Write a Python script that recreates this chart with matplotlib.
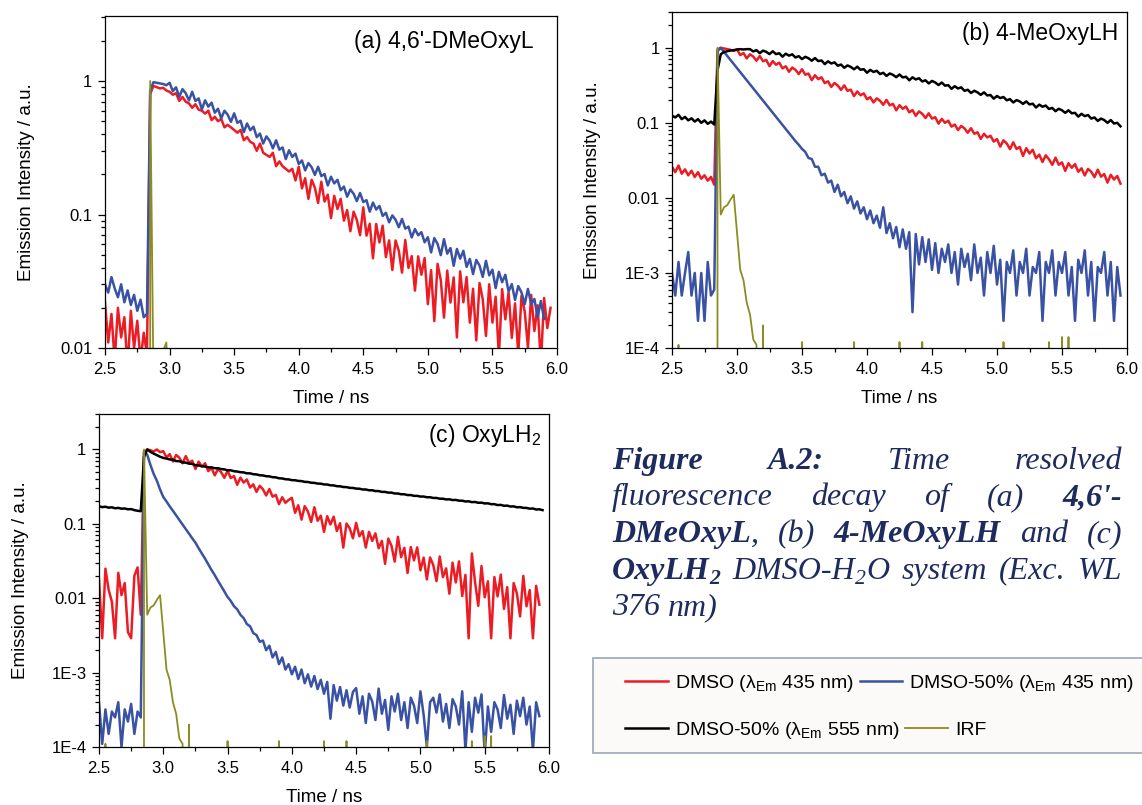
import numpy as np
import matplotlib
matplotlib.use("Agg")
import matplotlib.pyplot as plt
from matplotlib import font_manager
from matplotlib.patches import Rectangle
from matplotlib.ticker import AutoMinorLocator, LogLocator, NullFormatter

nan = np.nan

# time channels (ns), 0.025 ns per point
t = np.round(np.arange(2.5, 5.9501, 0.025), 3)

# ---- (a) 4,6'-DMeOxyL ----
a_dmso = [0.022, 0.011, 0.018, 0.008, 0.020, 0.012, 0.017, 0.007, 0.019, 0.010,
          0.016, 0.008, 0.013, 0.009, 0.80, 0.92, 0.90, 0.88, 0.89, 0.85,
          0.83, 0.79, 0.81, 0.71, 0.76, 0.70, 0.68, 0.63, 0.67, 0.61,
          0.60, 0.57, 0.60, 0.51, 0.54, 0.50, 0.52, 0.45, 0.47, 0.45,
          0.43, 0.41, 0.43, 0.36, 0.38, 0.35, 0.34, 0.30, 0.34, 0.29,
          0.28, 0.27, 0.29, 0.23, 0.25, 0.23, 0.22, 0.21, 0.22, 0.18,
          0.228, 0.157, 0.187, 0.131, 0.182, 0.159, 0.122, 0.176, 0.125, 0.141,
          0.094, 0.138, 0.110, 0.131, 0.090, 0.108, 0.075, 0.105, 0.091, 0.070,
          0.113, 0.0695, 0.0853, 0.047, 0.085, 0.0618, 0.0825, 0.048, 0.064, 0.0384,
          0.0639, 0.0534, 0.0367, 0.0645, 0.0398, 0.0488, 0.0269, 0.0486, 0.0354, 0.0472,
          0.0213, 0.0383, 0.0159, 0.0427, 0.0323, 0.0169, 0.038, 0.0219, 0.0338, 0.012,
          0.0375, 0.022, 0.034, 0.0155, 0.0278, 0.0114, 0.0307, 0.0232, 0.0123, 0.030,
          0.0155, 0.0242, 0.0087, 0.0276, 0.0164, 0.026, 0.0119, 0.0216, 0.009, 0.0246,
          0.0188, 0.0101, 0.025, 0.0134, 0.0209, 0.0075, 0.0237, 0.0141, 0.020]
a_dmso50 = [0.030, 0.026, 0.034, 0.028, 0.024, 0.030, 0.022, 0.027, 0.021, 0.025,
            0.019, 0.023, 0.017, 0.018, 0.85, 0.98, 0.97, 0.96, 0.95, 0.93,
            0.97, 0.84, 0.898, 0.761, 0.869, 0.811, 0.715, 0.831, 0.709, 0.741,
            0.613, 0.717, 0.643, 0.688, 0.579, 0.62, 0.525, 0.599, 0.559, 0.494,
            0.573, 0.486, 0.504, 0.414, 0.481, 0.428, 0.455, 0.38, 0.404, 0.34,
            0.385, 0.357, 0.313, 0.36, 0.306, 0.318, 0.26, 0.303, 0.27, 0.286,
            0.239, 0.254, 0.214, 0.243, 0.226, 0.198, 0.228, 0.194, 0.201, 0.165,
            0.192, 0.171, 0.182, 0.152, 0.162, 0.136, 0.154, 0.143, 0.126, 0.145,
            0.124, 0.128, 0.105, 0.123, 0.109, 0.116, 0.0976, 0.103, 0.0874, 0.0984,
            0.0914, 0.0803, 0.0926, 0.0784, 0.0812, 0.0673, 0.0779, 0.0699, 0.0737, 0.0619,
            0.0676, 0.052, 0.0666, 0.0603, 0.0496, 0.0654, 0.0509, 0.0561, 0.0413, 0.0552,
            0.0467, 0.0535, 0.0405, 0.0465, 0.0358, 0.0457, 0.0415, 0.0341, 0.045, 0.035,
            0.0386, 0.0281, 0.0372, 0.0311, 0.0354, 0.0265, 0.0301, 0.0229, 0.0291, 0.0261,
            0.0213, 0.0277, 0.0214, 0.0233, 0.017, 0.0225, 0.0165, nan, nan]

# ---- (b) 4-MeOxyLH ----
b_dmso = [0.026, 0.022, 0.027, 0.021, 0.024, 0.020, 0.023, 0.019, 0.022, 0.018,
          0.020, 0.017, 0.019, 0.015, 0.95, 1.0, 0.98, 0.96, 0.94, 0.91,
          0.95, 0.80, 0.853, 0.722, 0.821, 0.764, 0.673, 0.778, 0.662, 0.69,
          0.57, 0.665, 0.594, 0.634, 0.532, 0.567, 0.479, 0.546, 0.508, 0.447,
          0.518, 0.438, 0.454, 0.371, 0.431, 0.383, 0.405, 0.338, 0.358, 0.301,
          0.34, 0.314, 0.275, 0.316, 0.267, 0.277, 0.227, 0.262, 0.233, 0.247,
          0.206, 0.22, 0.187, 0.212, 0.197, 0.174, 0.202, 0.171, 0.179, 0.147,
          0.172, 0.154, 0.165, 0.138, 0.148, 0.124, 0.142, 0.132, 0.116, 0.134,
          0.114, 0.119, 0.0975, 0.113, 0.10, 0.107, 0.0891, 0.095, 0.0802, 0.091,
          0.0843, 0.0738, 0.0849, 0.0716, 0.075, 0.0611, 0.0715, 0.064, 0.0672, 0.0563,
          0.0607, 0.0482, 0.0585, 0.0532, 0.0446, 0.0551, 0.0449, 0.0477, 0.0362, 0.046,
          0.0391, 0.0438, 0.0337, 0.0377, 0.0301, 0.0369, 0.0327, 0.0276, 0.0344, 0.0277,
          0.0297, 0.0229, 0.029, 0.0252, 0.0282, 0.0223, 0.0248, 0.0199, 0.0243, 0.0223,
          0.0189, 0.0238, 0.0192, 0.0208, 0.016, 0.0203, 0.0176, 0.0196, 0.0155]
b_dmso50 = [0.0010, 0.0005, 0.0014, 0.0005, 0.0010, 0.0019, 0.0005, 0.0010, 0.00023, 0.0010,
            0.00023, 0.0014, 0.0005, 0.0006, 0.90, 1.0, 0.883, 0.78, 0.689, 0.608,
            0.537, 0.474, 0.419, 0.37, 0.326, 0.288, 0.255, 0.225, 0.199, 0.175,
            0.155, 0.137, 0.121, 0.107, 0.094, 0.083, 0.073, 0.065, 0.057, 0.051,
            0.045, 0.041, 0.034, 0.033, 0.026, 0.026, 0.020, 0.021, 0.016, 0.017,
            0.012, 0.015, 0.0105, 0.012, 0.0085, 0.0105, 0.0072, 0.009, 0.0062, 0.0075,
            0.0052, 0.0068, 0.0046, 0.0058, 0.0040, 0.0075, 0.0034, 0.0046, 0.0029, 0.0041,
            0.0022, 0.0038, 0.0021, 0.0035, 0.0003, 0.0033, 0.0013, 0.0030, 0.0014, 0.0028,
            0.0011, 0.0025, 0.0010, 0.0021, 0.0014, 0.0024, 0.0010, 0.0019, 0.0007, 0.0021,
            0.0012, 0.0018, 0.0008, 0.0024, 0.0010, 0.0016, 0.0005, 0.0019, 0.0010, 0.0023,
            0.0007, 0.0015, 0.00023, 0.0014, 0.0010, 0.0020, 0.0005, 0.0014, 0.0010, 0.0021,
            0.0005, 0.0012, 0.0010, 0.0019, 0.00023, 0.0014, 0.0010, 0.0020, 0.0005, 0.0014,
            0.0010, 0.0019, 0.0005, 0.0012, 0.00023, 0.0015, 0.0010, 0.0020, 0.0005, 0.0014,
            0.00023, 0.0012, 0.0010, 0.0019, 0.0005, 0.0014, 0.00023, 0.0012, 0.0005]
b_dmso50_555 = [0.125, 0.118, 0.128, 0.112, 0.120, 0.108, 0.115, 0.104, 0.112, 0.100,
                0.108, 0.097, 0.104, 0.095, 0.50, 0.82, 0.88, 0.90, 0.92, 0.93,
                0.95, 0.96, 0.95, 0.96, 0.96, 0.894, 0.931, 0.848, 0.917, 0.884,
                0.824, 0.90, 0.824, 0.846, 0.761, 0.835, 0.786, 0.819, 0.743, 0.774,
                0.707, 0.759, 0.726, 0.673, 0.73, 0.665, 0.678, 0.606, 0.661, 0.618,
                0.64, 0.577, 0.598, 0.542, 0.582, 0.557, 0.517, 0.56, 0.51, 0.52,
                0.465, 0.508, 0.477, 0.494, 0.447, 0.465, 0.422, 0.455, 0.436, 0.406,
                0.441, 0.403, 0.412, 0.369, 0.404, 0.379, 0.393, 0.356, 0.369, 0.335,
                0.362, 0.345, 0.319, 0.345, 0.313, 0.318, 0.284, 0.308, 0.287, 0.297,
                0.267, 0.276, 0.25, 0.268, 0.255, 0.236, 0.255, 0.232, 0.235, 0.21,
                0.228, 0.214, 0.221, 0.20, 0.207, 0.187, 0.201, 0.193, 0.179, 0.193,
                0.176, 0.18, 0.16, 0.175, 0.164, 0.17, 0.153, 0.158, 0.143, 0.154,
                0.147, 0.136, 0.147, 0.134, 0.136, 0.121, 0.132, 0.123, 0.127, 0.114,
                0.118, 0.106, 0.114, 0.109, 0.10, 0.109, 0.098, 0.10, 0.09]

# ---- (c) OxyLH2 ----
c_dmso = [0.018, 0.0029, 0.025, 0.013, 0.009, 0.0029, 0.022, 0.011, 0.016, 0.0035,
          0.0029, 0.020, 0.026, 0.006, 0.9, 1.0, 0.98, 0.94, 1.0, 0.92,
          0.95, 0.779, 0.867, 0.691, 0.844, 0.773, 0.653, 0.816, 0.659, 0.708,
          0.547, 0.687, 0.59, 0.653, 0.512, 0.566, 0.449, 0.545, 0.496, 0.416,
          0.517, 0.413, 0.439, 0.335, 0.419, 0.359, 0.395, 0.308, 0.34, 0.269,
          0.325, 0.292, 0.241, 0.294, 0.232, 0.245, 0.184, 0.228, 0.192, 0.21,
          0.224, 0.141, 0.178, 0.114, 0.173, 0.147, 0.106, 0.167, 0.11, 0.129,
          0.078, 0.127, 0.098, 0.125, 0.08, 0.102, 0.048, 0.101, 0.087, 0.064,
          0.103, 0.068, 0.08, 0.048, 0.078, 0.059, 0.0745, 0.047, 0.059, 0.029,
          0.0634, 0.0506, 0.0311, 0.067, 0.0356, 0.0476, 0.0218, 0.0488, 0.0323, 0.0483,
          0.0238, 0.0352, 0.0179, 0.0353, 0.0279, 0.017, 0.0364, 0.0192, 0.0252, 0.0115,
          0.0301, 0.0163, 0.0313, 0.0107, 0.0206, 0.0029, 0.040, 0.0164, 0.0079, 0.0271,
          0.0103, 0.0169, 0.0029, 0.0193, 0.0106, 0.0208, 0.0072, 0.0141, 0.0029, 0.016,
          0.0117, 0.0057, 0.020, 0.0078, 0.0129, 0.0029, 0.0147, 0.0082, nan]
c_dmso50 = [0.0004, 0.00011, 0.00032, 0.00015, 0.0003, 0.00025, 0.0004, 0.0001, 0.00032, 0.00022,
            0.00038, 0.00015, 0.0003, 0.00025, 0.95, 0.85, 0.62, 0.47, 0.38, 0.29,
            0.23, 0.20, 0.172, 0.150, 0.130, 0.113, 0.098, 0.085, 0.074, 0.064,
            0.056, 0.047, 0.040, 0.034, 0.0285, 0.024, 0.0205, 0.0172, 0.0146, 0.0123,
            0.0104, 0.0092, 0.0078, 0.0071, 0.0060, 0.0054, 0.0045, 0.0042, 0.0034, 0.0032,
            0.0026, 0.0027, 0.0020, 0.0023, 0.0016, 0.0019, 0.0013, 0.0016, 0.0011, 0.0013,
            0.00095, 0.0012, 0.00082, 0.0011, 0.00072, 0.00095, 0.00065, 0.0009, 0.0006, 0.0008,
            0.00052, 0.00075, 0.00024, 0.00068, 0.00042, 0.00064, 0.00036, 0.00058, 0.00034, 0.00055,
            0.00062, 0.00028, 0.00048, 0.00021, 0.00052, 0.00041, 0.00023, 0.00061, 0.00028, 0.00043,
            0.00017, 0.00048, 0.0003, 0.00052, 0.00023, 0.0004, 0.00018, 0.00046, 0.00036, 0.00021,
            0.00056, 0.00027, 0.0001, 0.0004, 0.00046, 0.00029, 0.00051, 0.00022, 0.00038, 0.00018,
            0.00044, 0.00035, 0.0002, 0.00056, 0.00009, 0.0004, 0.00016, 0.00046, 0.00029, 0.00051,
            0.00008, 0.00035, 0.00016, 0.0004, 0.00032, 0.00018, 0.0005, 0.00024, 0.00037, 0.00015,
            0.00042, 0.00026, 0.00046, 0.0002, 0.00035, 0.00009, 0.0004, 0.00026, nan]
c_dmso50_555 = [0.172, 0.168, 0.170, 0.165, 0.167, 0.162, 0.164, 0.160, 0.161, 0.157,
                0.158, 0.153, 0.150, 0.148, 0.80, 1.0, 0.93, 0.88, 0.84, 0.80,
                0.77, 0.755, 0.735, 0.725, 0.70, 0.695, 0.67, 0.665, 0.645, 0.64,
                0.615, 0.61, 0.595, 0.59, 0.575, 0.575, 0.56, 0.56, 0.545, 0.54,
                0.525, 0.525, 0.51, 0.505, 0.495, 0.492, 0.478, 0.478, 0.465, 0.462,
                0.45, 0.448, 0.437, 0.435, 0.424, 0.422, 0.41, 0.408, 0.398, 0.396,
                0.387, 0.386, 0.378, 0.376, 0.367, 0.366, 0.357, 0.356, 0.348, 0.347,
                0.339, 0.338, 0.33, 0.329, 0.321, 0.32, 0.313, 0.312, 0.305, 0.304,
                0.298, 0.297, 0.29, 0.29, 0.283, 0.283, 0.276, 0.276, 0.269, 0.269,
                0.263, 0.263, 0.256, 0.256, 0.25, 0.25, 0.244, 0.244, 0.238, 0.238,
                0.233, 0.233, 0.228, 0.228, 0.223, 0.223, 0.218, 0.218, 0.213, 0.214,
                0.209, 0.21, 0.205, 0.205, 0.2, 0.201, 0.196, 0.197, 0.192, 0.193,
                0.188, 0.189, 0.184, 0.184, 0.179, 0.18, 0.175, 0.176, 0.171, 0.172,
                0.167, 0.168, 0.164, 0.164, 0.16, 0.161, 0.156, 0.157, 0.153]

# instrument response (zero counts -> off the log axis)
irf = [0, 0, 0.00011, 0, 0, 0, 0, 0, 0, 0,
       0, 0, 0, 0, 1.0, 0.006, 0.0075, 0.008, 0.0095, 0.011,
       0.0035, 0.0011, 0.0008, 0.0004, 0.00028, 0.00013, 0.00011, 0, 0.0002, 0,
       0, 0, 0, 0, 0, 0, 0, 0, 0, 0,
       0.00012, 0, 0, 0, 0, 0, 0, 0, 0, 0,
       0, 0, 0, 0, 0, 0, 0.00012, 0, 0, 0,
       0, 0, 0, 0, 0, 0, 0, 0, 0, 0,
       0.00012, 0, 0, 0, 0, 0, 0, 0.00012, 0, 0,
       0, 0, 0, 0, 0, 0, 0, 0, 0, 0,
       0, 0, 0, 0, 0, 0, 0, 0, 0, 0,
       0, 0, 0.00012, 0, 0, 0, 0, 0, 0, 0,
       0, 0, 0, 0, 0, 0, 0.00012, 0, 0, 0,
       0.00014, 0, 0.00014, 0, 0, 0, 0, 0, 0, 0,
       0, 0, 0, 0, 0, 0, 0, 0, 0]

labels = ["DMSO (λ$_{\\mathrm{Em}}$ 435 nm)", "DMSO-50% (λ$_{\\mathrm{Em}}$ 435 nm)",
          "DMSO-50% (λ$_{\\mathrm{Em}}$ 555 nm)", "IRF"]
xticks = [2.5, 3.0, 3.5, 4.0, 4.5, 5.0, 5.5, 6.0]

RED, BLUE, BLACK, OLIVE = "#ec1c24", "#3a52a3", "#000000", "#8c8c22"
LW, LW_IRF = 1.8, 1.3
W, H = 1142, 805

plt.rcParams["font.family"] = ["Liberation Sans", "DejaVu Sans"]
plt.rcParams["mathtext.fontset"] = "custom"
plt.rcParams["mathtext.rm"] = "Liberation Sans"
plt.rcParams["mathtext.it"] = "Liberation Sans:italic"
plt.rcParams["mathtext.bf"] = "Liberation Sans:bold"

fig = plt.figure(figsize=(W / 100, H / 100), dpi=100)


def make_axes(l, t_, r, b):
    return fig.add_axes([l / W, 1 - b / H, (r - l) / W, (b - t_) / H])


def style_axes(ax, ymin, ymax, yt, ytl, title, tx, ty):
    ax.set_yscale("log")
    ax.set_xlim(2.5, 6.0)
    ax.set_ylim(ymin, ymax)
    ax.set_xticks(xticks)
    ax.set_xticklabels([f"{v:.1f}" for v in xticks])
    ax.xaxis.set_minor_locator(AutoMinorLocator(2))
    ax.set_yticks(yt)
    ax.set_yticklabels(ytl)
    ax.yaxis.set_minor_locator(LogLocator(base=10, subs=np.arange(2, 10)))
    ax.yaxis.set_minor_formatter(NullFormatter())
    ax.tick_params(which="both", direction="out", top=False, right=False, width=0.9)
    ax.tick_params(which="major", length=5, labelsize=12)
    ax.tick_params(axis="x", which="major", pad=5)
    ax.tick_params(axis="y", which="major", pad=4)
    ax.tick_params(which="minor", length=3)
    for s in ax.spines.values():
        s.set_linewidth(0.9)
    ax.set_xlabel("Time / ns", fontsize=13.5)
    ax.set_ylabel("Emission Intensity / a.u.", fontsize=13.5)
    ax.xaxis.set_label_coords(0.5, -0.125)
    ax.yaxis.set_label_coords(-0.155, 0.5)
    ax.text(tx, ty, title, transform=ax.transAxes, ha="right", va="baseline", fontsize=16.5)


# (a)
ax_a = make_axes(105, 16, 557, 348)
ax_a.plot(t, a_dmso, color=RED, lw=LW)
ax_a.plot(t, a_dmso50, color=BLUE, lw=LW)
ax_a.plot(t, irf, color=OLIVE, lw=LW_IRF)
style_axes(ax_a, 0.01, 3.07, [0.01, 0.1, 1], ["0.01", "0.1", "1"],
           "(a) 4,6'-DMeOxyL", 0.949, 0.905)

# (b)
ax_b = make_axes(672, 12, 1127, 348)
h_red, = ax_b.plot(t, b_dmso, color=RED, lw=LW)
h_blue, = ax_b.plot(t, b_dmso50, color=BLUE, lw=LW)
h_black, = ax_b.plot(t, b_dmso50_555, color=BLACK, lw=LW)
h_irf, = ax_b.plot(t, irf, color=OLIVE, lw=LW_IRF)
style_axes(ax_b, 1e-4, 3.0, [1e-4, 1e-3, 0.01, 0.1, 1], ["1E-4", "1E-3", "0.01", "0.1", "1"],
           "(b) 4-MeOxyLH", 0.98, 0.917)

# (c)
ax_c = make_axes(99, 414, 549, 747)
ax_c.plot(t, c_dmso, color=RED, lw=LW)
ax_c.plot(t, c_dmso50, color=BLUE, lw=LW)
ax_c.plot(t, c_dmso50_555, color=BLACK, lw=LW)
ax_c.plot(t, irf, color=OLIVE, lw=LW_IRF)
style_axes(ax_c, 1e-4, 3.0, [1e-4, 1e-3, 0.01, 0.1, 1], ["1E-4", "1E-3", "0.01", "0.1", "1"],
           "(c) OxyLH$_2$", 0.9815, 0.917)

# legend box with two flowing rows
names = {f.name for f in font_manager.fontManager.ttflist}
if "Liberation Sans Narrow" in names:
    leg_prop = {"family": "Liberation Sans Narrow", "size": 17}
else:
    leg_prop = {"family": "Liberation Sans", "size": 14}
fig.add_artist(Rectangle((593 / W, 1 - 753 / H), (1150 - 593) / W, 95 / H,
                         transform=fig.transFigure, facecolor="#fbfaf8",
                         edgecolor="#9aa6b6", lw=1.2, zorder=1))
leg_kw = dict(loc="center left", ncol=2, frameon=False, borderpad=0, borderaxespad=0,
              handlelength=2.2, handletextpad=0.36, columnspacing=0.3, prop=leg_prop)
fig.legend([h_red, h_blue], labels[:2], bbox_to_anchor=(625 / W, 1 - 683 / H), **leg_kw)
fig.legend([h_black, h_irf], labels[2:], bbox_to_anchor=(625 / W, 1 - 730 / H), **leg_kw)

# justified caption
cap_lines = [
    [[("Figure", "bi")], [("A.2:", "bi")], [("Time", "i")], [("resolved", "i")]],
    [[("fluorescence", "i")], [("decay", "i")], [("of", "i")], [("(a)", "i")], [("4,6'-", "bi")]],
    [[("DMeOxyL", "bi"), (",", "i")], [("(b)", "i")], [("4-MeOxyLH", "bi")], [("and", "i")], [("(c)", "i")]],
    [[("OxyLH", "bi"), ("2", "bis")], [("DMSO-H", "i"), ("2", "is"), ("O", "i")],
     [("system", "i")], [("(Exc.", "i")], [("WL", "i")]],
    [[("376", "i")], [("nm)", "i")]],
]
CAP_COLOR = "#1e2b5e"
cap_size = 23
cap_left, cap_right = 612, 1122
rend = fig.canvas.get_renderer()
for k, words in enumerate(cap_lines):
    base = 469 + 36.5 * k
    built = []
    for word in words:
        runs = []
        for s, st in word:
            sub = st.endswith("s")
            txt = fig.text(0, 0, s, fontfamily="Liberation Serif", style="italic",
                           weight="bold" if "b" in st else "normal",
                           fontsize=cap_size * (0.68 if sub else 1.0),
                           color=CAP_COLOR, va="baseline", ha="left")
            runs.append((txt, sub, txt.get_window_extent(renderer=rend).width))
        built.append(runs)
    wsum = sum(w for runs in built for _, _, w in runs)
    if k < len(cap_lines) - 1:
        gap = (cap_right - cap_left - wsum) / (len(built) - 1)
    else:
        gap = 8
    x = cap_left
    for runs in built:
        for txt, sub, w in runs:
            y = base + (5 if sub else 0)
            txt.set_position((x / W, 1 - y / H))
            x += w
        x += gap

fig.savefig("out.png", dpi=100)
